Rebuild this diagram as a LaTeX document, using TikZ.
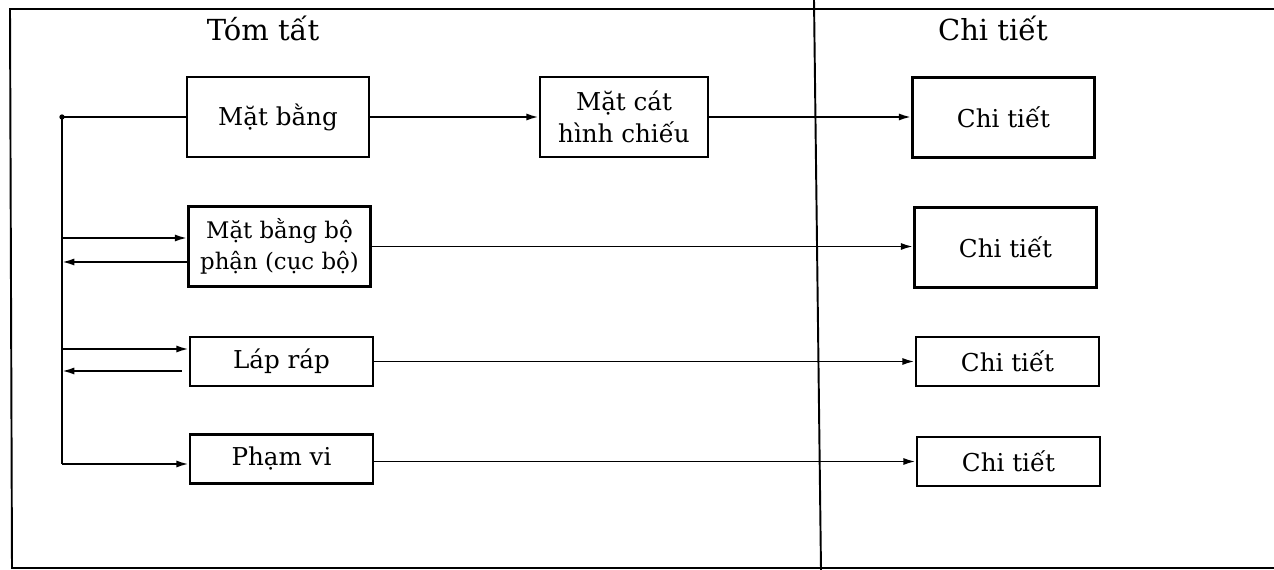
\documentclass[tikz,border=0pt]{standalone}
\usepackage{fontspec}
\setmainfont{DejaVu Serif}
\usetikzlibrary{arrows.meta, positioning}

\begin{document}
\begin{tikzpicture}[
  x=0.02cm, y=-0.02cm,
  boxa/.style={rectangle, draw, line width=1.5pt, minimum width=3.64cm,
               minimum height=1.6cm, align=center,
               font=\fontsize{14}{18}\selectfont},
  boxb/.style={rectangle, draw, line width=1.5pt, minimum width=3.66cm,
               minimum height=0.98cm, align=center,
               font=\fontsize{14}{18}\selectfont},
  head/.style={font=\fontsize{16.5}{20}\selectfont},
  line/.style={line width=1.1pt},
  arr/.style={-{Latex[length=7pt, width=4pt]}, line width=1.1pt}
]
\useasboundingbox (0,0) rectangle (1274,570);

% outer frame and divider
\draw[line] (1274,9) -- (10,9) -- (12,568) -- (1274,568);
\draw[line] (814,0) -- (821,570);

\node[head] (tt) at (263,28) {Tóm tất};
\node[head] (ct) at (993,28) {Chi tiết};

\node[boxa] (mb)  at (278,117)    {Mặt bằng};
\node[boxa, minimum width=3.36cm] (mc) at (624,117) {Mặt cát\\hình chiếu};
\node[boxa] (ct1) at (1003.5,117.5) {Chi tiết};

\node[boxa, font=\fontsize{13}{17.5}\selectfont] (mbp) at (279.5,246.5)
  {Mặt bằng bộ\\phận (cục bộ)};
\node[boxa] (ct2) at (1005.5,247.5) {Chi tiết};

\node[boxb] (lr)  at (281.5,361.5) {Láp ráp};
\node[boxb] (ct3) at (1007.5,361.5) {Chi tiết};

\node[boxb] (pv)  at (281.5,459)   {Phạm vi};
\node[boxb] (ct4) at (1008.5,461.5) {Chi tiết};

% bus on the left
\coordinate (b0) at (62,117);
\coordinate (b1) at (62,238);
\coordinate (b2) at (62,262);
\coordinate (b3) at (62,349);
\coordinate (b4) at (62,371);
\coordinate (b5) at (62,464);

\draw[line] (mb.west) -- (b0) -- (b5);
\fill (b0) circle (1.5pt);
\draw[arr] (b5) -- (b5 -| pv.west);
\draw[arr] (b1) -- (b1 -| mbp.west);
\draw[arr] (b2 -| mbp.west) -- (b2);
\draw[arr] (b3) -- (b3 -| lr.west);
\draw[arr] ([xshift=-4pt]b4 -| lr.west) -- (b4);

% to the details
\draw[arr] (mb.east) -- (mc.west);
\draw[arr] (mc.east) -- (mc.east -| ct1.west);
\draw[arr] (mbp.east) -- (mbp.east -| ct2.west);
\draw[arr] (lr.east) -- (ct3.west);
\draw[arr] (ct4.west -| pv.east) -- (ct4.west);

\end{tikzpicture}
\end{document}
